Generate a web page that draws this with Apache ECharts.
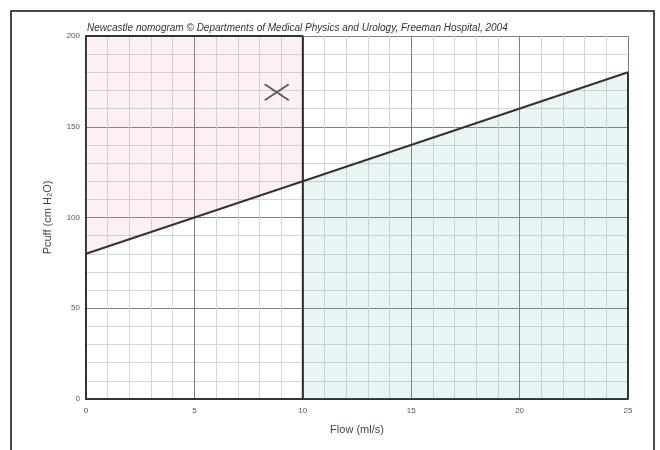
<!DOCTYPE html>
<html>
<head>
<meta charset="utf-8">
<script src="https://cdn.jsdelivr.net/npm/echarts@6/dist/echarts.min.js"></script>
<style>
  html, body { margin: 0; padding: 0; background: #fff; }
  #chart { width: 660px; height: 450px; }
</style>
</head>
<body>
<div id="chart"></div>
<script>
// nomogram threshold line (Pcuff vs flow)
const lineData = [[0, 80], [10, 120], [25, 180]]
// shaded zones
const pinkZone = [[0, 80], [10, 120]]
const greenZone = [[10, 120], [25, 180]]
// thick borders
const boxBorder = [[0, 200], [10, 200], [10, 0]]
const rightBorder = [[25, 0], [25, 180]]
// patient marker
const marker = [[8.8, 169]]

const chart = echarts.init(document.getElementById('chart'))
const dark = '#333'
chart.setOption({
  animation: false,
  title: {
    text: 'Newcastle nomogram © Departments of Medical Physics and Urology, Freeman Hospital, 2004',
    left: 82,
    top: 18,
    textStyle: { fontSize: 10, fontStyle: 'italic', fontWeight: 'normal', color: '#333', fontFamily: 'Liberation Sans' },
  },
  graphic: [{
    type: 'rect',
    shape: { x: 11, y: 11, width: 643, height: 460 },
    style: { fill: 'none', stroke: '#111', lineWidth: 1.5 },
    silent: true,
  }],
  grid: { left: 86, right: 32, top: 36, bottom: 51 },
  xAxis: {
    type: 'value', min: 0, max: 25, interval: 5,
    name: 'Flow (ml/s)', nameLocation: 'middle', nameGap: 25,
    nameTextStyle: { fontSize: 11, color: '#4a3d4a', fontFamily: 'Liberation Sans' },
    axisLine: { lineStyle: { color: dark, width: 2 } },
    axisTick: { show: false },
    axisLabel: { fontSize: 8, color: '#555', margin: 8, fontFamily: 'Liberation Sans' },
    splitLine: { lineStyle: { color: '#7f7f7f', width: 1 } },
    minorTick: { show: false, splitNumber: 5 },
    minorSplitLine: { show: true, lineStyle: { color: '#d6d6d6', width: 1 } },
  },
  yAxis: {
    type: 'value', min: 0, max: 200, interval: 50,
    name: 'Pcuff (cm H\u2082O)', nameLocation: 'middle', nameGap: 33,
    nameTextStyle: { fontSize: 11, color: '#4a3d4a', fontFamily: 'Liberation Sans' },
    axisLine: { show: true, lineStyle: { color: dark, width: 2 } },
    axisTick: { show: false },
    axisLabel: { fontSize: 8, color: '#555', margin: 6, fontFamily: 'Liberation Sans' },
    splitLine: { lineStyle: { color: '#7f7f7f', width: 1 } },
    minorTick: { show: false, splitNumber: 5 },
    minorSplitLine: { show: true, lineStyle: { color: '#d6d6d6', width: 1 } },
  },
  series: [
    {
      type: 'line', data: pinkZone, symbol: 'none', silent: true,
      lineStyle: { width: 0 },
      areaStyle: { color: 'rgba(235,150,185,0.2)', origin: 'end' },
    },
    {
      type: 'line', data: greenZone, symbol: 'none', silent: true,
      lineStyle: { width: 0 },
      areaStyle: { color: 'rgba(110,190,185,0.22)', origin: 'start' },
    },
    {
      type: 'line', data: boxBorder, symbol: 'none', z: 4,
      lineStyle: { color: dark, width: 2 },
    },
    {
      type: 'line', data: rightBorder, symbol: 'none', z: 4,
      lineStyle: { color: dark, width: 2 },
    },
    {
      type: 'line', data: lineData, symbol: 'none', z: 5,
      lineStyle: { color: dark, width: 2 },
    },
    {
      type: 'scatter', data: marker, z: 6,
      symbol: 'path://M0,0L10,7M10,0L0,7',
      symbolSize: [24, 16],
      itemStyle: { color: 'none', borderColor: dark, borderWidth: 2 },
    },
  ],
})
</script>
</body>
</html>
